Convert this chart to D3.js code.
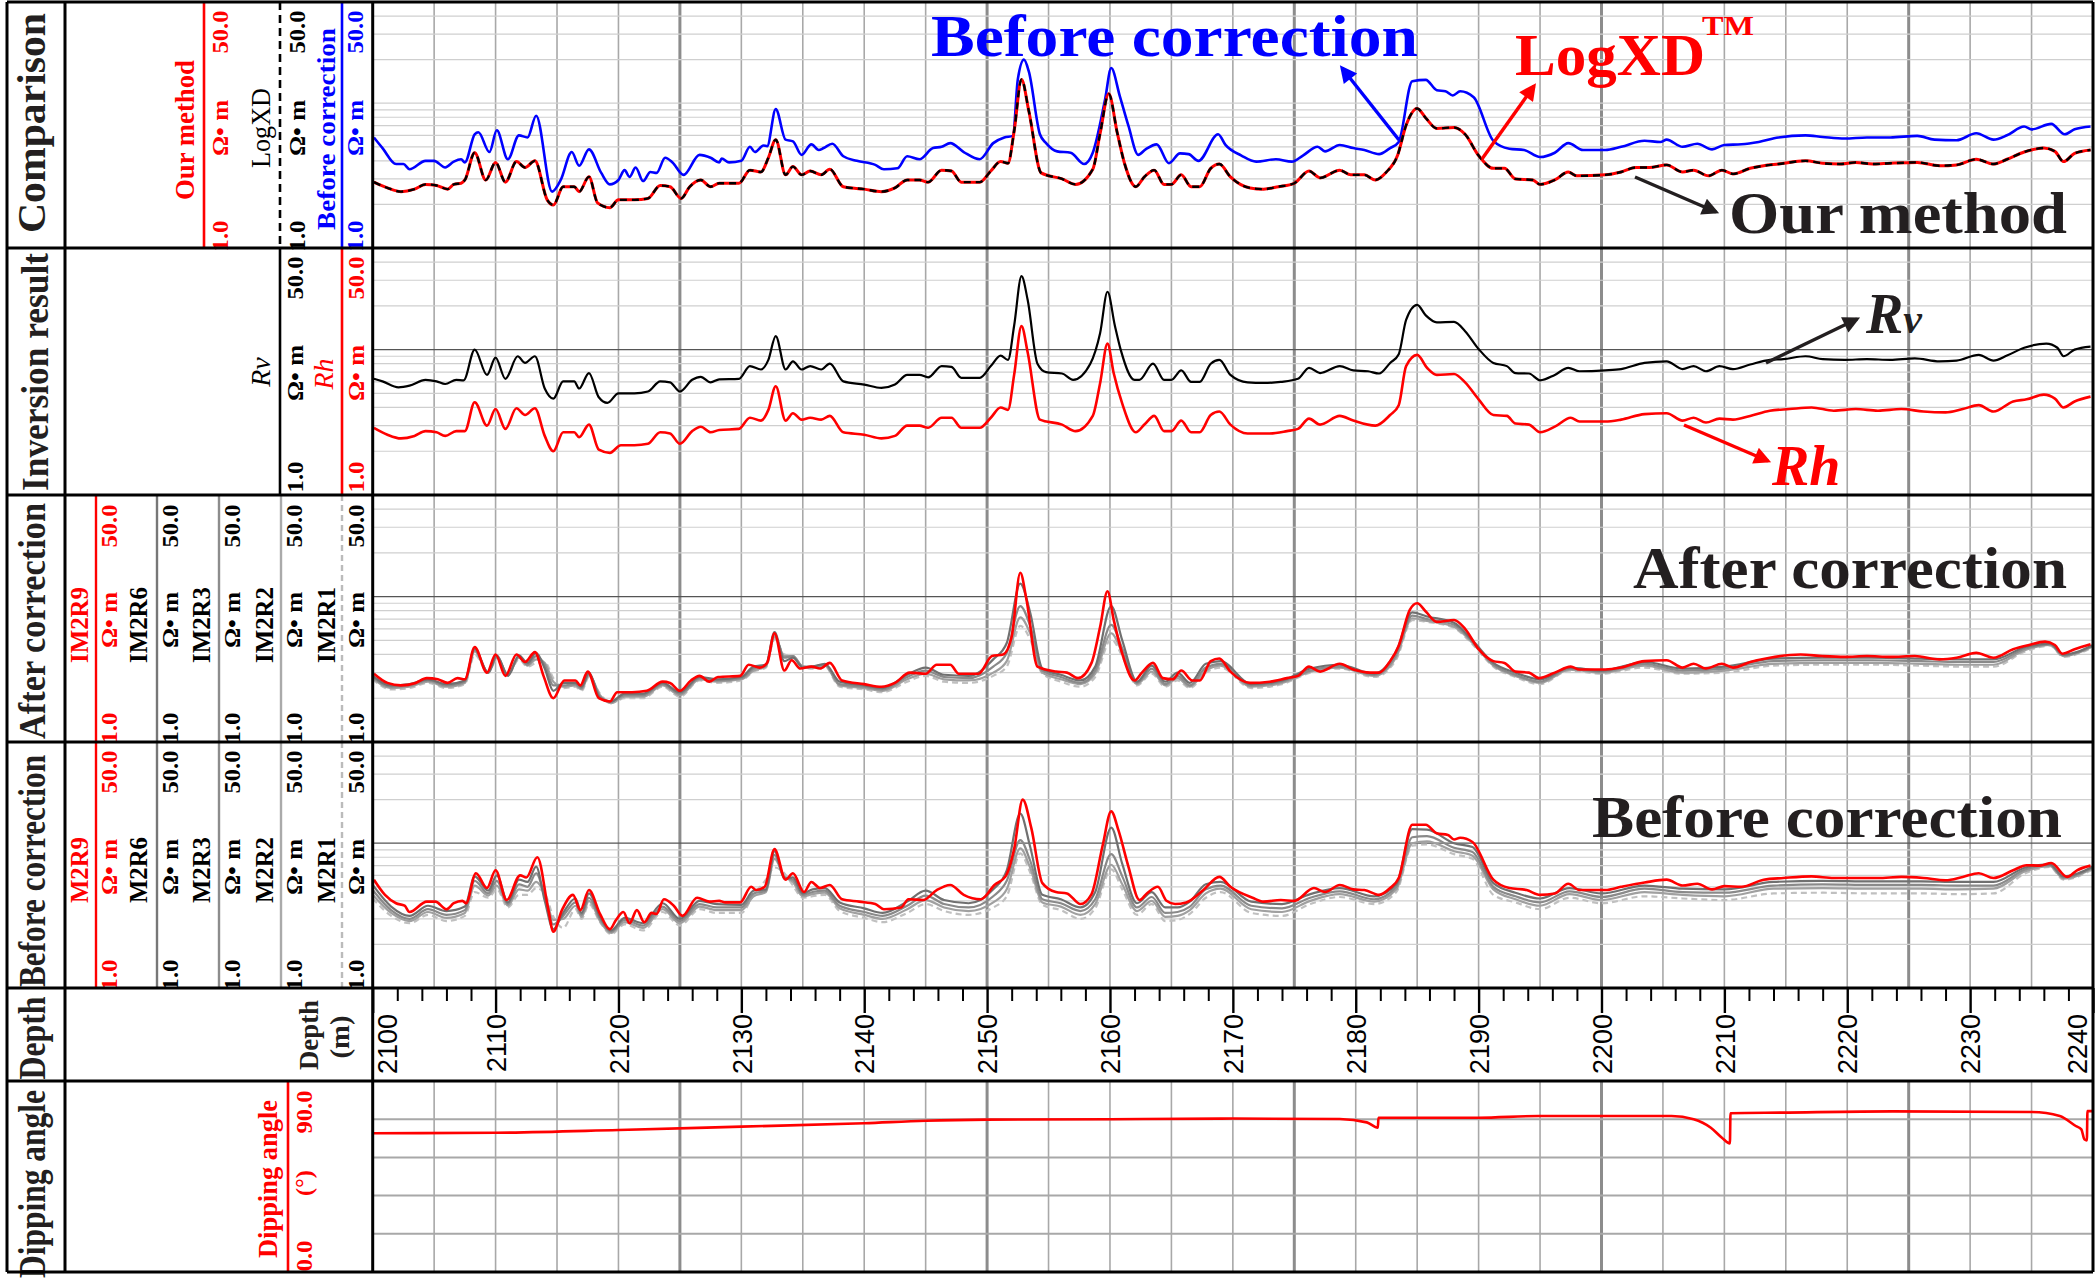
<!DOCTYPE html>
<html>
<head>
<meta charset="utf-8">
<script src="https://cdn.jsdelivr.net/npm/d3@7"></script>
<style>
  body { margin: 0; background: #fff; }
  svg { display: block; }
</style>
</head>
<body>
<script>
// ---- data (depth in m, resistivity in ohm.m, angle in degrees) ----
var beforeCorrectionBlue = [
  [2100.1,5.8],[2100.8,4.9],[2101.9,3.8],[2102.5,3.8],[2103.0,3.5],[2104.3,4.0],[2105.0,4.0],[2105.9,3.6],
  [2106.6,3.95],[2107.2,4.1],[2107.5,3.9],[2108.3,6.1],[2108.6,6.3],[2109.5,4.6],[2110.1,6.5],[2111.0,4.1],
  [2111.9,6.0],[2112.6,5.8],[2113.3,8.2],[2114.6,2.45],[2115.3,2.95],[2116.2,4.6],[2116.8,3.7],[2117.6,4.8],
  [2118.6,3.3],[2119.3,2.75],[2120.0,2.95],[2120.5,3.45],[2120.9,3.1],[2121.4,3.6],[2122.0,2.9],[2122.6,3.35],
  [2123.1,3.3],[2123.8,4.2],[2124.4,3.9],[2125.3,3.2],[2126.6,4.4],[2127.5,4.2],[2128.2,3.9],[2128.4,4.15],
  [2129.0,3.9],[2130.0,4.0],[2130.7,5.0],[2131.1,4.6],[2131.8,5.1],[2132.1,5.05],[2132.8,9.1],[2133.6,5.6],
  [2134.2,5.45],[2134.9,4.4],[2135.7,5.2],[2136.3,4.75],[2136.7,4.9],[2137.4,5.25],[2138.3,4.3],[2139.4,4.0],
  [2140.9,3.75],[2141.6,3.5],[2142.7,3.55],[2143.5,4.3],[2144.5,4.1],[2145.6,4.9],[2146.3,5.0],[2147.0,5.3],
  [2148.1,4.6],[2149.4,4.1],[2150.5,5.3],[2151.4,5.8],[2152.1,5.95],[2152.5,14.6],[2153.0,20],[2153.4,16.5],
  [2154.3,6.1],[2154.8,5.3],[2155.7,4.65],[2156.8,4.55],[2157.9,3.8],[2158.6,4.55],[2159.6,10.6],[2160.1,17.5],
  [2160.8,11.2],[2161.5,7.0],[2162.3,4.4],[2162.9,4.8],[2163.8,5.2],[2164.8,3.85],[2165.7,4.5],[2166.4,4.45],
  [2167.2,4.0],[2168.8,6.1],[2169.4,5.15],[2170.7,4.35],[2171.9,3.95],[2173.5,4.1],[2174.8,3.95],[2175.7,4.35],
  [2176.9,5.0],[2177.5,4.65],[2178.7,5.15],[2179.8,4.9],[2180.7,4.75],[2181.9,4.45],[2182.8,4.9],[2183.5,5.4],
  [2184.6,14.2],[2185.7,14.5],[2186.6,12.3],[2187.3,12.1],[2187.9,11.3],[2188.5,12.1],[2189.6,11],[2191.2,5.5],
  [2192.5,4.85],[2193.7,4.75],[2195.0,4.25],[2196.2,4.55],[2197.3,5.3],[2198.5,4.75],[2200.3,4.75],[2201.6,5.0],
  [2203.5,5.5],[2204.8,5.4],[2205.3,5.6],[2206.6,5.0],[2207.8,5.25],[2209.0,4.8],[2210.0,5.15],[2211.4,5.2],
  [2212.8,5.4],[2214.4,5.8],[2216.6,6.0],[2218.0,5.85],[2219.8,5.7],[2221.6,5.8],[2223.5,5.8],[2225.7,5.95],
  [2227.1,5.6],[2228.9,5.55],[2230.5,6.2],[2231.9,5.6],[2233.0,6.0],[2234.4,6.9],[2235.0,6.6],[2236.6,7.2],
  [2237.7,6.1],[2238.5,6.6],[2239.8,6.9]
];

var ourMethod = [
  [2100.1,2.85],[2101.2,2.6],[2102.3,2.45],[2103.4,2.55],[2104.3,2.75],[2105.2,2.7],[2106.1,2.55],[2106.6,2.75],
  [2107.2,2.8],[2107.5,2.95],[2108.3,4.55],[2109.2,2.95],[2110.0,3.9],[2110.8,2.85],[2111.7,3.95],[2112.4,3.6],
  [2113.2,4.0],[2114.2,2.15],[2114.7,1.98],[2115.5,2.65],[2116.4,2.65],[2116.8,2.45],[2117.6,3.1],[2118.3,2.05],
  [2119.3,1.9],[2120.0,2.15],[2121.3,2.15],[2122.4,2.2],[2123.4,2.7],[2124.2,2.65],[2125.1,2.2],[2125.8,2.65],
  [2126.7,2.95],[2127.5,2.65],[2128.2,2.8],[2129.8,2.8],[2130.7,3.45],[2131.6,3.35],[2132.2,4.2],[2132.8,5.6],
  [2133.6,3.2],[2134.2,3.65],[2134.9,3.2],[2135.6,3.4],[2136.5,3.2],[2137.2,3.5],[2138.3,2.65],[2140.0,2.55],
  [2141.4,2.45],[2142.5,2.6],[2143.5,2.95],[2144.5,2.95],[2145.2,2.85],[2146.3,3.45],[2147.1,3.4],[2147.9,2.85],
  [2149.4,2.85],[2150.3,3.4],[2151.1,3.95],[2151.7,3.85],[2152.2,6.4],[2152.8,14.6],[2153.4,8.8],[2154.4,3.3],
  [2156.1,3.0],[2157.2,2.75],[2158.6,3.5],[2159.2,6.2],[2159.9,11.6],[2160.6,6.2],[2161.2,3.8],[2162.1,2.65],
  [2162.8,3.1],[2163.6,3.45],[2164.4,2.75],[2165.0,2.75],[2165.8,3.2],[2166.6,2.65],[2167.3,2.65],[2168.2,3.55],
  [2168.9,3.8],[2169.8,3.1],[2171.4,2.6],[2172.5,2.55],[2173.7,2.65],[2175.0,2.8],[2176.2,3.4],[2177.1,3.05],
  [2178.7,3.45],[2179.6,3.2],[2180.7,3.2],[2181.6,2.95],[2182.5,3.35],[2183.4,4.35],[2184.1,7.05],[2185.0,9.2],
  [2185.7,7.9],[2186.6,6.7],[2188.0,6.8],[2188.9,6.1],[2190.0,4.35],[2191.2,3.55],[2192.1,3.55],[2193.0,3.0],
  [2194.4,2.95],[2195.0,2.75],[2196.2,2.95],[2197.3,3.35],[2198.0,3.15],[2200.3,3.2],[2201.6,3.35],[2202.8,3.6],
  [2203.9,3.6],[2205.3,3.75],[2206.6,3.35],[2207.5,3.45],[2208.7,3.15],[2209.8,3.45],[2210.7,3.25],[2212.1,3.55],
  [2213.2,3.7],[2214.4,3.8],[2216.6,4.0],[2218.0,3.85],[2219.4,3.8],[2220.7,3.9],[2222.1,3.8],[2223.5,3.85],
  [2225.7,3.9],[2227.5,3.7],[2228.9,3.75],[2230.5,4.1],[2231.9,3.8],[2233.0,4.1],[2234.4,4.6],[2236.0,4.9],
  [2236.9,4.65],[2237.6,3.95],[2238.5,4.5],[2239.8,4.75]
];
// the LogXD curve lies exactly on top of "our method" in the picture
var logXD = ourMethod;

var rv = [
  [2100.1,6.3],[2100.8,6.05],[2102.1,5.5],[2103.0,5.65],[2104.3,6.2],[2105.2,6.05],[2105.9,5.8],[2106.8,6.2],
  [2107.4,6.15],[2108.3,10],[2109.3,6.7],[2110.0,8.8],[2110.8,6.3],[2111.8,9.0],[2112.4,8.1],[2113.2,9.0],
  [2114.0,5.4],[2114.7,4.6],[2115.5,6.05],[2116.4,6.05],[2116.8,5.4],[2117.6,6.9],[2118.4,4.7],[2119.1,4.3],
  [2120.0,5.0],[2121.3,5.0],[2122.4,5.15],[2123.4,6.05],[2124.2,5.95],[2125.0,5.15],[2126.0,6.2],[2126.7,6.5],
  [2127.5,5.95],[2128.2,6.25],[2129.8,6.3],[2130.7,7.7],[2131.6,7.3],[2132.2,8.5],[2132.8,12.4],[2133.6,7.3],
  [2134.2,8.3],[2134.9,7.3],[2135.6,7.7],[2136.5,7.3],[2137.2,8.0],[2138.3,6.05],[2140.0,5.75],[2141.4,5.45],
  [2142.5,5.75],[2143.5,6.7],[2144.5,6.7],[2145.2,6.45],[2146.3,7.7],[2147.1,7.6],[2147.9,6.4],[2149.4,6.4],
  [2150.3,7.7],[2151.1,9.1],[2151.7,8.5],[2152.2,14.6],[2152.8,32],[2153.3,22],[2154.1,8.0],[2154.8,7.0],
  [2156.1,6.85],[2157.0,6.2],[2158.4,8.0],[2159.2,13],[2159.8,25],[2160.4,14.6],[2160.9,9.8],[2162.0,6.2],
  [2162.4,6.2],[2163.5,8.0],[2164.4,6.2],[2165.0,6.2],[2165.8,7.2],[2166.6,6.0],[2167.3,6.0],[2168.2,8.0],
  [2168.9,8.5],[2169.8,6.7],[2171.2,5.95],[2172.5,5.9],[2173.9,6.0],[2175.3,6.3],[2176.2,7.5],[2177.1,6.9],
  [2178.7,7.7],[2179.8,7.2],[2181.0,7.1],[2181.9,6.85],[2182.8,8.1],[2183.5,9.3],[2184.1,16],[2185.0,20.3],
  [2185.7,17.2],[2186.6,15.4],[2188.0,15.5],[2188.9,13.4],[2190.0,10.1],[2191.2,8.1],[2192.3,7.7],[2193.0,6.9],
  [2194.1,6.85],[2195.0,6.15],[2196.2,6.7],[2197.3,7.5],[2198.2,7.1],[2200.3,7.2],[2201.6,7.35],[2203.5,8.1],
  [2205.3,8.3],[2206.6,7.35],[2207.5,7.7],[2208.5,7.1],[2209.6,7.7],[2210.7,7.35],[2212.1,7.9],[2213.7,8.5],
  [2214.8,8.6],[2216.6,9.0],[2218.0,8.6],[2219.8,8.5],[2221.6,8.6],[2223.5,8.5],[2225.5,8.7],[2227.5,8.3],
  [2228.9,8.4],[2230.7,9.2],[2231.9,8.4],[2233.0,9.1],[2234.4,10.3],[2236.2,11.0],[2237.1,10.3],[2237.6,9.0],
  [2238.5,10],[2239.8,10.5]
];

var rh = [
  [2100.1,2.9],[2101.2,2.6],[2102.3,2.45],[2103.4,2.55],[2104.3,2.75],[2105.2,2.7],[2105.9,2.55],[2106.8,2.75],
  [2107.5,2.75],[2108.3,4.35],[2109.3,3.0],[2110.0,3.9],[2110.8,2.85],[2111.7,3.95],[2112.4,3.55],[2113.2,3.95],
  [2114.0,2.55],[2114.7,2.0],[2115.5,2.7],[2116.4,2.7],[2116.8,2.5],[2117.6,3.05],[2118.4,2.05],[2119.3,1.95],
  [2120.2,2.2],[2121.3,2.2],[2122.4,2.25],[2123.4,2.7],[2124.2,2.65],[2125.0,2.25],[2126.0,2.75],[2126.7,2.95],
  [2127.5,2.7],[2128.2,2.8],[2129.8,2.85],[2130.7,3.4],[2131.6,3.25],[2132.2,3.85],[2132.8,5.6],[2133.6,3.25],
  [2134.2,3.65],[2134.9,3.3],[2135.6,3.4],[2136.5,3.3],[2137.2,3.5],[2138.3,2.7],[2140.0,2.6],[2141.4,2.45],
  [2142.5,2.55],[2143.5,3.0],[2144.5,3.0],[2145.2,2.9],[2146.3,3.4],[2147.1,3.4],[2147.9,2.9],[2149.4,2.9],
  [2150.3,3.4],[2151.1,4.0],[2151.7,3.85],[2152.2,6.7],[2152.8,14.5],[2153.3,9.6],[2154.3,3.3],[2156.1,3.05],
  [2157.2,2.75],[2158.6,3.5],[2159.2,5.9],[2159.8,11],[2160.3,6.9],[2161.0,4.25],[2162.1,2.7],[2162.8,3.05],
  [2163.6,3.5],[2164.4,2.75],[2165.0,2.75],[2165.8,3.25],[2166.6,2.7],[2167.3,2.7],[2168.2,3.55],[2168.9,3.75],
  [2169.8,3.05],[2171.2,2.65],[2173.0,2.65],[2174.4,2.75],[2175.3,2.85],[2176.2,3.35],[2177.1,3.05],[2178.7,3.5],
  [2179.8,3.25],[2181.6,3.0],[2182.8,3.55],[2183.5,4.15],[2184.1,7.7],[2185.0,9.2],[2185.8,7.5],[2186.6,6.7],
  [2188.0,6.8],[2188.9,5.95],[2190.0,4.55],[2191.2,3.55],[2192.3,3.5],[2193.0,3.1],[2194.1,3.05],[2195.0,2.7],
  [2196.2,2.95],[2197.5,3.4],[2198.2,3.2],[2200.3,3.2],[2201.6,3.3],[2203.5,3.6],[2205.3,3.65],[2206.6,3.25],
  [2207.5,3.4],[2208.5,3.15],[2209.6,3.35],[2210.7,3.3],[2212.1,3.5],[2213.7,3.8],[2215.3,3.9],[2217.1,4.0],
  [2218.9,3.8],[2220.7,3.9],[2222.5,3.8],[2224.4,3.9],[2226.2,3.75],[2228.0,3.7],[2229.4,3.9],[2230.7,4.15],
  [2231.9,3.75],[2233.5,4.4],[2234.6,4.55],[2236.0,4.9],[2236.9,4.6],[2237.6,4.0],[2238.5,4.4],[2239.8,4.75]
];

var im2r9 = [
  [2100.1,2.95],[2101.2,2.55],[2102.3,2.45],[2103.5,2.55],[2104.4,2.75],[2105.3,2.7],[2106.1,2.55],[2106.9,2.75],
  [2107.5,2.7],[2108.3,4.5],[2109.3,3.0],[2110.0,4.0],[2110.8,2.85],[2111.7,4.0],[2112.4,3.55],[2113.2,4.15],
  [2113.9,2.85],[2114.7,2.0],[2115.6,2.65],[2116.5,2.65],[2116.9,2.45],[2117.5,3.05],[2118.4,2.0],[2119.3,1.9],
  [2119.9,2.2],[2121.1,2.2],[2122.3,2.25],[2123.6,2.6],[2124.2,2.55],[2125.0,2.25],[2125.9,2.65],[2126.6,2.85],
  [2127.4,2.6],[2128.1,2.8],[2129.9,2.85],[2130.6,3.4],[2131.5,3.25],[2132.1,3.5],[2132.7,5.6],[2133.5,3.1],
  [2134.1,3.65],[2134.8,3.2],[2135.7,3.3],[2136.4,3.2],[2137.2,3.5],[2138.2,2.65],[2140.0,2.5],[2141.4,2.4],
  [2142.5,2.55],[2143.7,3.0],[2145.0,2.95],[2145.9,3.4],[2147.0,3.4],[2147.7,2.95],[2149.3,2.95],[2150.4,3.9],
  [2151.3,4.0],[2152.0,5.3],[2152.7,14.6],[2153.2,9.6],[2154.1,3.3],[2155.6,3.05],[2156.5,3.0],[2157.4,2.75],
  [2158.5,3.5],[2159.2,6.2],[2159.8,10.9],[2160.3,6.95],[2161.0,4.05],[2162.0,2.65],[2162.6,3.0],[2163.5,3.5],
  [2164.3,2.75],[2165.1,2.7],[2165.8,3.1],[2166.7,2.65],[2167.3,2.65],[2168.2,3.6],[2168.9,3.75],[2169.8,3.05],
  [2171.4,2.55],[2173.0,2.6],[2174.4,2.75],[2175.3,2.85],[2176.2,3.3],[2177.1,3.05],[2178.7,3.45],[2179.8,3.15],
  [2181.2,3.0],[2181.9,3.0],[2182.8,3.6],[2183.5,4.6],[2184.4,8.1],[2185.0,9.0],[2185.7,7.9],[2186.6,6.7],
  [2188.0,6.9],[2188.9,6.0],[2190.0,4.35],[2191.2,3.6],[2192.1,3.5],[2193.0,3.05],[2194.1,3.0],[2194.9,2.75],
  [2196.2,3.0],[2197.5,3.3],[2198.2,3.15],[2200.3,3.15],[2201.6,3.25],[2203.5,3.6],[2205.3,3.65],[2206.6,3.25],
  [2207.5,3.45],[2208.5,3.2],[2209.8,3.45],[2210.7,3.25],[2212.1,3.55],[2213.7,3.8],[2216.2,4.0],[2218.0,3.9],
  [2219.8,3.85],[2221.6,3.9],[2223.5,3.85],[2225.5,3.9],[2227.5,3.7],[2228.9,3.8],[2230.5,4.1],[2231.9,3.8],
  [2233.5,4.35],[2234.8,4.65],[2236.1,4.9],[2236.9,4.65],[2237.5,4.05],[2238.5,4.35],[2239.8,4.7]
];

var m2r9 = [
  [2100.1,5.6],[2101.0,4.4],[2101.9,3.85],[2102.6,3.7],[2103.0,3.35],[2104.4,3.95],[2105.1,3.95],[2106.0,3.5],
  [2106.6,3.85],[2107.3,4.0],[2107.6,3.85],[2108.4,6.2],[2109.3,4.9],[2110.0,6.5],[2110.9,4.05],[2112.0,6.0],
  [2112.5,5.8],[2113.4,8.0],[2114.3,3.45],[2114.7,2.45],[2115.4,3.45],[2116.3,4.4],[2116.9,3.45],[2117.6,4.75],
  [2118.5,3.25],[2119.3,2.55],[2119.8,2.95],[2120.4,3.35],[2120.9,2.8],[2121.5,3.45],[2122.1,2.85],[2122.7,3.3],
  [2123.1,3.25],[2123.7,4.1],[2124.5,3.7],[2125.2,3.15],[2126.4,4.2],[2127.4,3.95],[2128.2,4.0],[2128.7,3.9],
  [2129.9,3.9],[2130.8,5.0],[2131.2,4.75],[2131.9,5.0],[2132.7,9.1],[2133.6,5.6],[2134.2,6.2],[2135.1,4.6],
  [2135.7,5.4],[2136.4,4.9],[2137.2,5.15],[2138.2,4.1],[2139.6,3.95],[2140.9,3.8],[2141.6,3.5],[2143.0,3.6],
  [2143.6,4.1],[2144.8,4.05],[2145.9,4.75],[2147.0,5.15],[2148.1,4.4],[2149.5,4.1],[2150.6,5.15],[2151.5,5.9],
  [2152.2,9.1],[2152.9,20],[2153.6,12.7],[2154.5,5.3],[2155.6,4.6],[2156.5,4.5],[2157.6,3.8],[2158.5,4.45],
  [2159.4,9.6],[2160.1,16.6],[2160.7,12.2],[2161.5,6.9],[2162.4,4.05],[2163.0,4.5],[2163.9,5.0],[2164.6,4.0],
  [2165.3,3.8],[2166.2,3.9],[2167.6,4.75],[2168.9,5.85],[2169.8,5.0],[2171.6,4.2],[2172.5,3.95],[2173.9,4.05],
  [2175.0,4.0],[2176.6,4.9],[2177.5,4.6],[2178.7,5.15],[2179.8,4.8],[2180.7,4.75],[2181.9,4.4],[2182.8,4.9],
  [2183.5,5.75],[2184.6,13.4],[2185.7,13.4],[2186.6,11.7],[2187.5,11.4],[2188.0,10.6],[2188.5,10.9],[2189.5,10.2],
  [2191.2,5.6],[2192.5,4.9],[2193.9,4.75],[2195.0,4.4],[2196.2,4.5],[2197.3,5.25],[2198.2,4.75],[2200.3,4.75],
  [2201.6,5.0],[2203.5,5.35],[2205.3,5.6],[2206.6,5.1],[2207.8,5.25],[2209.0,4.8],[2210.0,5.05],[2211.4,5.0],
  [2213.2,5.6],[2214.8,5.75],[2217.1,5.9],[2218.9,5.75],[2220.7,5.75],[2222.5,5.75],[2224.4,5.85],[2226.2,5.75],
  [2228.0,5.55],[2229.4,5.85],[2230.7,6.2],[2231.9,5.75],[2233.5,6.5],[2234.6,7.05],[2235.7,7.0],[2236.6,7.3],
  [2237.9,5.85],[2238.7,6.5],[2239.8,7.0]
];

// shallower-array curves, read at a common set of depths
var grayDepths = [
  2100, 2101.5, 2103, 2104.5, 2106, 2107.5, 2108.3, 2109.4, 2110.1, 2111,
  2111.9, 2112.6, 2113.3, 2114, 2114.7, 2115.5, 2116.5, 2117, 2117.6, 2118.5,
  2119.4, 2120.5, 2122, 2123.6, 2125, 2126.6, 2128, 2130, 2131, 2132,
  2132.7, 2133.5, 2134.2, 2135, 2135.8, 2136.8, 2138, 2140, 2141.5, 2143.5,
  2145, 2146.5, 2148.5, 2150.5, 2151.6, 2152.7, 2153.5, 2154.5, 2156, 2157.6,
  2158.8, 2160.1, 2161, 2162.2, 2163.4, 2164.5, 2165.5, 2166.5, 2167.8, 2169,
  2171.5, 2174, 2176.3, 2178.7, 2181.5, 2183.3, 2184.6, 2185.8, 2188, 2189.5,
  2191.2, 2193, 2195, 2197.4, 2200, 2203.5, 2206.6, 2210, 2214, 2218,
  2222, 2226, 2229, 2231.9, 2234.5, 2236.5, 2237.6, 2240
];
var im2r6 = [
  2.85, 2.45, 2.5, 2.7, 2.5, 2.65, 4.4, 3.0, 3.95, 2.85,
  3.95, 3.5, 4.1, 3.2, 2.25, 2.55, 2.55, 2.4, 3.0, 2.0,
  1.9, 2.15, 2.15, 2.55, 2.2, 2.8, 2.7, 2.8, 3.3, 3.4,
  5.7, 3.6, 3.8, 3.25, 3.3, 3.45, 2.6, 2.45, 2.35, 2.9,
  3.25, 2.9, 2.85, 3.7, 4.8, 12.3, 7.8, 3.2, 2.9, 2.65,
  3.3, 8.6, 5.0, 2.6, 3.35, 2.6, 3.0, 2.55, 3.45, 3.6,
  2.5, 2.65, 3.2, 3.4, 2.95, 4.2, 7.8, 7.3, 6.6, 5.0,
  3.5, 3.0, 2.7, 3.25, 3.1, 3.55, 3.2, 3.3, 3.75, 3.8,
  3.8, 3.75, 3.7, 3.7, 4.5, 4.75, 4.0, 4.65
];
var im2r3 = [
  2.8, 2.4, 2.45, 2.65, 2.45, 2.6, 4.3, 3.0, 3.9, 2.9,
  3.85, 3.4, 3.9, 3.4, 2.45, 2.45, 2.5, 2.35, 2.95, 2.05,
  1.9, 2.1, 2.1, 2.5, 2.15, 2.75, 2.65, 2.75, 3.2, 3.35,
  5.5, 3.8, 3.9, 3.3, 3.3, 3.4, 2.5, 2.4, 2.3, 2.8,
  3.1, 2.8, 2.75, 3.3, 4.1, 8.6, 6.3, 3.1, 2.8, 2.55,
  3.1, 6.4, 4.4, 2.55, 3.2, 2.5, 2.85, 2.45, 3.25, 3.45,
  2.45, 2.6, 3.1, 3.3, 2.9, 4.0, 7.4, 7.0, 6.4, 4.9,
  3.4, 2.9, 2.6, 3.2, 3.05, 3.45, 3.1, 3.2, 3.6, 3.65,
  3.65, 3.6, 3.55, 3.55, 4.4, 4.7, 3.95, 4.6
];
var im2r2 = [
  2.75, 2.35, 2.4, 2.6, 2.4, 2.55, 4.2, 3.0, 3.8, 2.9,
  3.8, 3.35, 3.7, 3.5, 2.6, 2.4, 2.45, 2.3, 2.9, 2.1,
  1.85, 2.05, 2.05, 2.45, 2.1, 2.7, 2.6, 2.7, 3.1, 3.3,
  5.3, 3.9, 3.9, 3.3, 3.25, 3.35, 2.45, 2.35, 2.25, 2.7,
  2.95, 2.7, 2.65, 3.0, 3.6, 7.2, 5.6, 3.0, 2.7, 2.5,
  2.95, 5.6, 4.1, 2.5, 3.05, 2.45, 2.75, 2.4, 3.1, 3.35,
  2.4, 2.55, 3.05, 3.25, 2.85, 3.85, 7.1, 6.8, 6.2, 4.8,
  3.35, 2.85, 2.55, 3.15, 3.0, 3.35, 3.0, 3.1, 3.45, 3.5,
  3.5, 3.45, 3.4, 3.4, 4.3, 4.65, 3.9, 4.55
];
var im2r1 = [
  2.7, 2.3, 2.35, 2.55, 2.35, 2.5, 4.0, 3.0, 3.7, 2.9,
  3.7, 3.3, 3.5, 3.55, 2.75, 2.35, 2.4, 2.25, 2.8, 2.15,
  1.85, 2.0, 2.0, 2.4, 2.05, 2.65, 2.55, 2.65, 3.05, 3.25,
  5.1, 4.0, 3.85, 3.3, 3.2, 3.3, 2.4, 2.3, 2.2, 2.6,
  2.85, 2.6, 2.55, 2.85, 3.3, 6.3, 5.1, 2.95, 2.6, 2.4,
  2.8, 5.1, 3.9, 2.45, 2.95, 2.4, 2.65, 2.35, 3.0, 3.25,
  2.35, 2.5, 3.0, 3.2, 2.8, 3.7, 6.9, 6.7, 6.1, 4.7,
  3.3, 2.8, 2.5, 3.1, 2.95, 3.25, 2.95, 3.0, 3.35, 3.4,
  3.4, 3.35, 3.3, 3.3, 4.2, 4.6, 3.85, 4.5
];
var m2r6 = [
  5.15, 3.65, 3.15, 3.7, 3.4, 3.65, 5.9, 4.7, 6.0, 3.9,
  5.6, 5.4, 6.9, 4.0, 2.55, 3.3, 4.15, 3.3, 4.5, 3.1,
  2.5, 3.05, 2.8, 3.85, 3.0, 4.0, 3.8, 3.75, 4.7, 4.8,
  8.8, 5.7, 5.8, 4.5, 4.8, 4.9, 3.9, 3.55, 3.3, 3.95,
  4.7, 4.05, 3.85, 4.8, 6.5, 16, 9.5, 4.4, 4.1, 3.6,
  4.6, 12.8, 7.2, 3.85, 4.6, 3.6, 3.6, 3.95, 5.2, 5.4,
  3.95, 3.8, 4.45, 4.9, 4.3, 5.2, 12.5, 12.4, 10.0, 9.4,
  5.3, 4.55, 4.15, 4.9, 4.5, 5.1, 4.85, 4.8, 5.4, 5.5,
  5.45, 5.45, 5.4, 5.4, 6.8, 7.15, 5.9, 6.9
];
var m2r3 = [
  4.75, 3.45, 3.0, 3.5, 3.2, 3.45, 5.5, 4.5, 5.5, 3.8,
  5.2, 5.0, 6.2, 4.3, 2.75, 3.15, 3.9, 3.2, 4.2, 3.0,
  2.45, 2.95, 2.7, 3.65, 2.9, 3.8, 3.6, 3.6, 4.5, 4.7,
  8.3, 5.8, 5.6, 4.4, 4.6, 4.7, 3.7, 3.35, 3.15, 3.7,
  4.35, 3.8, 3.6, 4.3, 5.5, 10.5, 7.6, 4.1, 3.85, 3.4,
  4.1, 8.4, 5.9, 3.6, 4.25, 3.3, 3.35, 3.65, 4.8, 5.1,
  3.7, 3.55, 4.2, 4.65, 4.1, 5.0, 11.0, 11.2, 9.3, 8.7,
  5.0, 4.3, 3.9, 4.65, 4.25, 4.85, 4.6, 4.55, 5.1, 5.2,
  5.15, 5.15, 5.1, 5.1, 6.6, 7.05, 5.8, 6.8
];
var m2r2 = [
  4.4, 3.3, 2.9, 3.35, 3.05, 3.3, 5.1, 4.35, 5.1, 3.7,
  4.8, 4.7, 5.4, 4.45, 2.95, 3.0, 3.7, 3.1, 4.0, 2.9,
  2.4, 2.85, 2.6, 3.5, 2.8, 3.65, 3.45, 3.45, 4.3, 4.6,
  7.8, 5.9, 5.4, 4.3, 4.45, 4.55, 3.55, 3.2, 3.0, 3.5,
  4.05, 3.6, 3.4, 3.9, 4.8, 9.2, 6.8, 3.9, 3.65, 3.2,
  3.8, 7.1, 5.2, 3.4, 4.0, 3.1, 3.15, 3.45, 4.5, 4.85,
  3.5, 3.35, 4.0, 4.45, 3.95, 4.8, 10.0, 10.3, 8.8, 8.2,
  4.8, 4.1, 3.7, 4.45, 4.05, 4.6, 4.4, 4.3, 4.85, 4.9,
  4.85, 4.85, 4.8, 4.85, 6.4, 6.95, 5.7, 6.7
];
var m2r1 = [
  4.15, 3.15, 2.8, 3.2, 2.9, 3.15, 4.6, 4.2, 4.8, 3.6,
  4.4, 4.4, 4.9, 4.5, 3.1, 2.6, 3.5, 3.0, 3.8, 2.85,
  2.35, 2.75, 2.5, 3.35, 2.7, 3.5, 3.3, 3.3, 4.4, 5.6,
  6.8, 6.2, 5.1, 4.2, 4.3, 4.4, 3.4, 3.05, 2.85, 3.3,
  3.8, 3.4, 3.2, 3.6, 4.3, 8.5, 6.3, 3.75, 3.45, 3.0,
  3.55, 6.6, 4.8, 3.2, 3.8, 2.9, 2.95, 3.25, 4.2, 4.6,
  3.3, 3.15, 3.8, 4.25, 3.8, 4.6, 9.6, 9.8, 8.4, 7.8,
  4.4, 3.9, 3.5, 4.2, 3.85, 4.3, 4.15, 4.05, 4.5, 4.55,
  4.5, 4.5, 4.45, 4.5, 6.2, 6.85, 5.6, 6.6
];

var dippingAngle = [
  [2100,65.4],[2110,65.6],[2120,66.9],[2130,68.5],[2140,70.1],[2145,71.3],[2150,71.8],[2160,72.0],
  [2170,72.3],[2178.7,72.1],[2180.9,70.5],[2181.8,68.0],[2181.85,72.7],[2190,72.7],[2194.9,73.5],[2205.7,73.5],
  [2207.5,72.0],[2208.9,68.0],[2209.8,63.3],[2210.45,60.6],[2210.5,74.8],[2214.7,75.1],[2223.7,75.7],[2235,75.4],
  [2237.3,73.5],[2238.6,68.8],[2239.05,67.2],[2239.3,62.5],[2239.5,62.0],[2239.55,75.8],[2240,75.8]
];

var depthMajorTicks = d3.range(2100, 2241, 10);
var depthMinorTicks = d3.range(2102, 2240, 2).filter(function(d) { return d % 10 !== 0; });
var resGridValues = [2, 3, 4, 5, 6, 7, 8, 9, 10, 20, 30, 40];
var dipGridValues = [18, 36, 54, 72];

// ---- layout ----
var width = 2097, height = 1281;
var left = 7, col1 = 65, plotLeft = 372.7, plotRight = 2093;
var rows = { comp: [2, 248], inv: [248, 495], after: [495, 742], before: [742, 988], depth: [988, 1081], dip: [1081, 1272] };
var serif = "'Liberation Serif', 'Times New Roman', serif";
var dark = "#231f20";

var svg = d3.select("body").append("svg")
  .attr("width", width)
  .attr("height", height);

var x = d3.scaleLinear().domain([2100, 2240]).range([plotLeft, plotRight]);
function logScale(r) { return d3.scaleLog().domain([1, 50]).range([r[1], r[0]]); }
var yComp = logScale(rows.comp), yInv = logScale(rows.inv),
    yAfter = logScale(rows.after), yBefore = logScale(rows.before);
var yDip = d3.scaleLinear().domain([0, 90]).range([rows.dip[1], rows.dip[0]]);

var grid = svg.append("g");

// vertical depth grid in every track except the depth track
[rows.comp, rows.inv, rows.after, rows.before, rows.dip].forEach(function(r) {
  grid.selectAll(null)
    .data(d3.range(2105, 2240, 5))
    .enter()
    .append("line")
    .attr("x1", function(d) { return x(d); })
    .attr("x2", function(d) { return x(d); })
    .attr("y1", r[0]).attr("y2", r[1])
    .attr("stroke", function(d) { return d % 25 === 0 ? "#8c8c8c" : "#a8a8a8"; })
    .attr("stroke-width", function(d) { return d % 25 === 0 ? 3 : 1.6; });
});

// log resistivity grid
[[yComp, false], [yInv, true], [yAfter, true], [yBefore, true]].forEach(function(p) {
  var y = p[0];
  grid.selectAll(null)
    .data(resGridValues)
    .enter()
    .append("line")
    .attr("x1", plotLeft).attr("x2", plotRight)
    .attr("y1", function(d) { return y(d); })
    .attr("y2", function(d) { return y(d); })
    .attr("stroke", function(d) { return d === 10 && p[1] ? "#555" : "#cfcfcf"; })
    .attr("stroke-width", function(d) { return d === 10 && p[1] ? 1.3 : 1.2; });
});

// dip grid
grid.selectAll(null)
  .data(dipGridValues)
  .enter()
  .append("line")
  .attr("x1", plotLeft).attr("x2", plotRight)
  .attr("y1", function(d) { return yDip(d); })
  .attr("y2", function(d) { return yDip(d); })
  .attr("stroke", "#a8a8a8")
  .attr("stroke-width", 2);

// ---- curves ----
var curves = svg.append("g").attr("fill", "none").attr("stroke-linejoin", "round");
function drawCurve(data, y, color, w, dash) {
  var line = d3.line()
    .x(function(d) { return x(d[0]); })
    .y(function(d) { return y(d[1]); })
    .curve(d3.curveMonotoneX);
  curves.append("path")
    .attr("d", line(data))
    .attr("stroke", color)
    .attr("stroke-width", w)
    .attr("stroke-dasharray", dash || null);
}

drawCurve(beforeCorrectionBlue, yComp, "#0000ff", 2.6);
drawCurve(ourMethod, yComp, "#ff0000", 3);
drawCurve(logXD, yComp, "#000", 2.4, "7,5");

drawCurve(rv, yInv, "#000", 2.2);
drawCurve(rh, yInv, "#ff0000", 2.6);

var grayStyles = [["#c0c0c0", "6,4"], ["#a0a0a0", null], ["#8a8a8a", null], ["#707070", null]];
[im2r1, im2r2, im2r3, im2r6].forEach(function(vals, i) {
  drawCurve(d3.zip(grayDepths, vals), yAfter, grayStyles[i][0], 2.2, grayStyles[i][1]);
});
drawCurve(im2r9, yAfter, "#ff0000", 2.6);

[m2r1, m2r2, m2r3, m2r6].forEach(function(vals, i) {
  drawCurve(d3.zip(grayDepths, vals), yBefore, grayStyles[i][0], 2.2, grayStyles[i][1]);
});
drawCurve(m2r9, yBefore, "#ff0000", 2.6);

drawCurve(dippingAngle, yDip, "#ff0000", 2.6);

// ---- depth axis ----
var axisG = svg.append("g").attr("transform", "translate(0," + rows.depth[0] + ")");
axisG.append("g")
  .call(d3.axisBottom(x).tickValues(depthMinorTicks).tickSize(13).tickFormat(""))
  .call(function(g) { g.select(".domain").remove(); })
  .selectAll("line").attr("stroke", "#000").attr("stroke-width", 2);
var major = axisG.append("g")
  .call(d3.axisBottom(x).tickValues(depthMajorTicks).tickSize(25).tickFormat(d3.format("d")))
  .call(function(g) { g.select(".domain").remove(); });
major.selectAll("line").attr("stroke", "#000").attr("stroke-width", 2.4);
major.selectAll("text")
  .attr("font-family", "'Liberation Sans', Arial, sans-serif")
  .attr("font-size", 27)
  .attr("fill", "#000")
  .attr("text-anchor", "end")
  .attr("transform", function(d) {
    var off = d === 2100 ? 14 : (d === 2240 ? -16 : 0);
    return "translate(" + off + ",0) rotate(-90)";
  })
  .attr("x", -26)
  .attr("y", 0)
  .attr("dy", "0.36em");

// ---- header column ----
var head = svg.append("g");
function vline(xp, r, color, w, dash) {
  head.append("line")
    .attr("x1", xp).attr("x2", xp)
    .attr("y1", r[0]).attr("y2", r[1])
    .attr("stroke", color)
    .attr("stroke-width", w)
    .attr("stroke-dasharray", dash || null);
}
// xp is the baseline position of the rotated text, yc its centre
function vtext(xp, yc, str, o) {
  var t = head.append("text")
    .attr("transform", "translate(" + xp + "," + yc + ") rotate(-90)")
    .attr("text-anchor", "middle")
    .attr("font-family", serif)
    .attr("font-size", o.size || 24)
    .attr("font-weight", o.weight || "bold")
    .attr("font-style", o.style || "normal")
    .attr("fill", o.fill || dark)
    .text(str);
  if (o.len) t.attr("textLength", o.len).attr("lengthAdjust", "spacingAndGlyphs");
  return t;
}
function scaleLabels(xp, ys, color, hi, lo) {
  vtext(xp, ys[0], hi || "50.0", { fill: color, len: 43 });
  vtext(xp, ys[1], "\u03a9\u2022 m", { fill: color, len: 56 });
  vtext(xp, ys[2], lo || "1.0", { fill: color, len: 31 });
}

// track titles
vtext(45, 123, "Comparison", { size: 40, len: 220 });
vtext(48, 372, "Inversion result", { size: 38, len: 238 });
vtext(45, 621, "After correction", { size: 38, len: 236 });
vtext(45, 871, "Before correction", { size: 38, len: 232 });
vtext(45, 1038, "Depth", { size: 38, len: 83 });
vtext(45, 1184, "Dipping angle", { size: 38, len: 188 });

// comparison track
vline(204, rows.comp, "#ff0000", 2.6);
vline(280, rows.comp, "#000", 2.6, "8,5");
vline(342, rows.comp, "#0000ff", 2.6);
vtext(194, 130, "Our method", { size: 27, fill: "#ff0000", len: 140 });
vtext(270, 128, "LogXD", { size: 27, weight: "normal", fill: "#000", len: 80 });
vtext(335, 129, "Before correction", { size: 26, fill: "#0000ff", len: 202 });
scaleLabels(228, [32, 128, 236], "#ff0000");
scaleLabels(305, [32, 128, 236], "#000");
scaleLabels(363, [32, 128, 236], "#0000ff");

// inversion track
vline(280, rows.inv, "#000", 2.6);
vline(342, rows.inv, "#ff0000", 2.6);
vtext(270, 372, "Rv", { size: 28, weight: "normal", style: "italic", fill: "#000" });
vtext(333, 374, "Rh", { size: 28, weight: "normal", style: "italic", fill: "#ff0000" });
scaleLabels(303, [278, 373, 477], "#000");
scaleLabels(364, [278, 373, 477], "#ff0000");

// array tracks
var arrayCols = [
  { name: "R9", nameX: 88, lineX: 96, labX: 117, color: "#ff0000", text: "#ff0000", dash: null },
  { name: "R6", nameX: 147, lineX: 157, labX: 178, color: "#777", text: "#000", dash: null },
  { name: "R3", nameX: 210, lineX: 219, labX: 240, color: "#8c8c8c", text: "#000", dash: null },
  { name: "R2", nameX: 273, lineX: 281, labX: 302, color: "#aaa", text: "#000", dash: null },
  { name: "R1", nameX: 335, lineX: 342, labX: 364, color: "#bbb", text: "#000", dash: "6,4" }
];
arrayCols.forEach(function(c) {
  vline(c.lineX, rows.after, c.color, 2.4, c.dash);
  vline(c.lineX, rows.before, c.color, 2.4, c.dash);
  vtext(c.nameX, 625, "IM2" + c.name, { size: 26, fill: c.text, len: 76 });
  vtext(c.nameX, 870, "M2" + c.name, { size: 26, fill: c.text, len: 66 });
  scaleLabels(c.labX, [526, 620, 728], c.text);
  scaleLabels(c.labX, [772, 867, 975], c.text);
});

// depth track
vtext(318, 1035, "Depth", { size: 27, len: 70 });
vtext(349, 1037, "(m)", { size: 27, len: 43 });

// dip track
vline(288, rows.dip, "#ff0000", 2.6);
vtext(277, 1179, "Dipping angle", { size: 28, fill: "#ff0000", len: 158 });
vtext(312, 1112, "90.0", { fill: "#ff0000", len: 43 });
vtext(312, 1183, "(\u00b0)", { fill: "#ff0000", len: 26 });
vtext(312, 1256, "0.0", { fill: "#ff0000", len: 31 });

// ---- frame ----
var frame = svg.append("g").attr("stroke", "#000").attr("stroke-width", 3);
[rows.comp[0], rows.inv[0], rows.after[0], rows.before[0], rows.depth[0], rows.dip[0], rows.dip[1]].forEach(function(yy) {
  frame.append("line").attr("x1", left).attr("x2", plotRight).attr("y1", yy).attr("y2", yy);
});
[left, col1, plotLeft, plotRight].forEach(function(xx) {
  frame.append("line").attr("x1", xx).attr("x2", xx).attr("y1", rows.comp[0]).attr("y2", rows.dip[1]);
});

// ---- annotations ----
var defs = svg.append("defs");
function marker(id, color) {
  defs.append("marker")
    .attr("id", id)
    .attr("viewBox", "0 0 10 10")
    .attr("refX", 8).attr("refY", 5)
    .attr("markerWidth", 6).attr("markerHeight", 5)
    .attr("orient", "auto")
    .append("path")
    .attr("d", "M0,0L10,5L0,10z")
    .attr("fill", color);
}
marker("headBlue", "#0000ff");
marker("headRed", "#ff0000");
marker("headDark", dark);

var arrows = [
  { x1: 1399, y1: 140, x2: 1342, y2: 68, c: "#0000ff", m: "headBlue" },
  { x1: 1482, y1: 159, x2: 1534, y2: 86, c: "#ff0000", m: "headRed" },
  { x1: 1635, y1: 177, x2: 1716, y2: 212, c: dark, m: "headDark" },
  { x1: 1766, y1: 363, x2: 1857, y2: 319, c: dark, m: "headDark" },
  { x1: 1684, y1: 425, x2: 1768, y2: 461, c: "#ff0000", m: "headRed" }
];
var ann = svg.append("g");
arrows.forEach(function(a) {
  ann.append("line")
    .attr("x1", a.x1).attr("y1", a.y1).attr("x2", a.x2).attr("y2", a.y2)
    .attr("stroke", a.c).attr("stroke-width", 3.4)
    .attr("marker-end", "url(#" + a.m + ")");
});

function label(xp, yb, str, o) {
  var t = ann.append("text")
    .attr("x", xp).attr("y", yb)
    .attr("font-family", serif)
    .attr("font-weight", "bold")
    .attr("font-style", o.style || "normal")
    .attr("font-size", o.size || 60)
    .attr("fill", o.fill || dark)
    .text(str);
  if (o.len) t.attr("textLength", o.len).attr("lengthAdjust", "spacingAndGlyphs");
  return t;
}
label(931, 56, "Before  correction", { fill: "#0000ff", len: 487 });
label(1515, 75, "LogXD", { fill: "#ff0000", len: 190 });
label(1702, 35, "TM", { fill: "#ff0000", size: 28, len: 52 });
label(1729, 233, "Our  method", { len: 338 });
label(1633, 588, "After correction", { len: 434 });
label(1592, 837, "Before correction", { len: 470 });
var rvText = label(1866, 333, "R", { style: "italic", size: 56 });
rvText.append("tspan").attr("font-size", 42).text("v");
var rhText = label(1772, 485, "R", { style: "italic", size: 56, fill: "#ff0000" });
rhText.append("tspan").text("h");
</script>
</body>
</html>
